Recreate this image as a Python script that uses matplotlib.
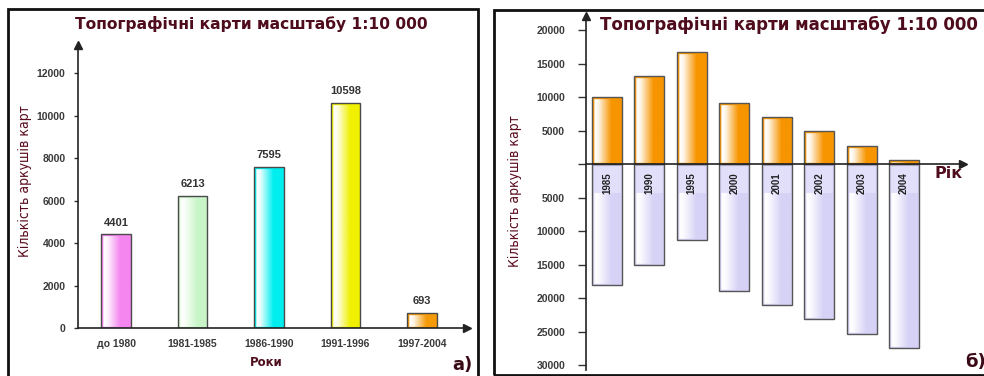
import numpy as np
import matplotlib.pyplot as plt
from matplotlib import font_manager
from matplotlib.colors import to_rgb
from matplotlib.patches import Rectangle

W, H = 984, 376
maroon = '#4e0c1c'
num_font = ['Liberation Sans', 'DejaVu Sans']

# narrow face for the vertical axis titles, whichever is installed
_faces = font_manager.fontManager.ttflist
if any(f.name == 'Liberation Sans Narrow' for f in _faces):
    narrow = dict(family='Liberation Sans Narrow', fontsize=11.5)
elif any(f.name == 'DejaVu Sans' and f.stretch == 'condensed' for f in _faces):
    narrow = dict(family='DejaVu Sans', fontstretch='condensed', fontsize=10)
else:
    narrow = dict(family='Liberation Sans', fontsize=10)

# а) sheets by period
periods = ['до 1980', '1981-1985', '1986-1990', '1991-1996', '1997-2004']
sheets = [4401, 6213, 7595, 10598, 693]
period_colors = ['#f585ef', '#c8f5c8', '#00eef0', '#f0f000', '#f59a08']

# б) sheets by year, above and below the axis
years = ['1985', '1990', '1995', '2000', '2001', '2002', '2003', '2004']
upper = [10000, 13100, 16700, 9100, 7000, 4900, 2700, 600]
lower = [18000, 15000, 11300, 18900, 21100, 23200, 25400, 27400]


def px_axes(fig, x0, y0, x1, y1):
    # box given in pixels from the top-left corner
    return fig.add_axes([x0 / W, 1 - y1 / H, (x1 - x0) / W, (y1 - y0) / H])


def gradient(color, n=80):
    c = np.array(to_rgb(color))
    t = np.linspace(0, 1, n)
    mix = np.interp(t, [0, 0.1, 0.22, 0.65, 1], [0.85, 0.0, 0.1, 1, 1])
    return (1 - mix[:, None] * (1 - c))[None, :, :]


def fill_bars(ax, bars, colors):
    for b, col in zip(bars, colors):
        x, y = b.get_x(), b.get_y()
        w, h = b.get_width(), b.get_height()
        im = ax.imshow(gradient(col), extent=(x, x + w, y, y + h),
                       aspect='auto', interpolation='bilinear', zorder=1)
        im.set_clip_path(b)
        # coloured rim just inside the grey outline
        rim = Rectangle((x, y), w, h, fill=False, ec=col, lw=2.4, zorder=1.8)
        ax.add_patch(rim)
        rim.set_clip_path(b)


def style_ticks(labels, size=7.5):
    for lab in labels:
        lab.set_fontsize(size)
        lab.set_fontweight('bold')
        lab.set_color('#3a3a3a')
        lab.set_family(num_font)


fig = plt.figure(figsize=(W / 100, H / 100), dpi=100)

# panel frames
fig.patches.append(Rectangle((8 / W, -0.1), 470 / W, 1.1 - 9 / H, transform=fig.transFigure,
                             fill=False, ec='#111', lw=2))
fig.patches.append(Rectangle((494 / W, 1 / H), 0.6, 1 - 11 / H, transform=fig.transFigure,
                             fill=False, ec='#111', lw=2))

# ---- а) ----
ax = px_axes(fig, 78, 45, 467, 328)
x = np.arange(len(periods))
bars = ax.bar(x, sheets, 0.39, color='none', edgecolor='#4a4a4a', lw=1, zorder=2)
fill_bars(ax, bars, period_colors)
for b, v in zip(bars, sheets):
    ax.annotate(str(v), (b.get_x() + b.get_width() / 2, v), xytext=(0, 5),
                textcoords='offset points', ha='center', va='bottom',
                fontsize=8, fontweight='bold', color='#333', family=num_font)
ax.set_xlim(-0.497, 4.588)
ax.set_ylim(0, 13318)
ax.set_yticks(range(0, 12001, 2000))
ax.set_xticks(x, periods)
for s in ['top', 'right']:
    ax.spines[s].set_visible(False)
for s in ['left', 'bottom']:
    ax.spines[s].set_color('#222')
    ax.spines[s].set_linewidth(1.2)
ax.spines['bottom'].set_zorder(3)
ax.tick_params(axis='y', length=3, width=1, color='#333', pad=6)
ax.tick_params(axis='x', length=0, pad=8)
style_ticks(ax.get_xticklabels() + ax.get_yticklabels())
ax.patch.set_visible(False)
ax.plot(1, 0, '>', color='#222', ms=6, transform=ax.transAxes, clip_on=False)
ax.plot(0, 1, '^', color='#222', ms=6, transform=ax.transAxes, clip_on=False)

fig.text(251 / W, 1 - 24 / H, 'Топографічні карти масштабу 1:10 000', ha='center', va='center',
         fontsize=11.2, fontweight='bold', color=maroon)
fig.text(25 / W, 1 - 181 / H, 'Кількість аркушів карт', rotation=90, ha='center', va='center',
         color='#5a0c1e', **narrow)
fig.text(266 / W, 1 - 362 / H, 'Роки', ha='center', va='center',
         fontsize=8.5, fontweight='bold', color=maroon)
fig.text(462 / W, 1 - 365 / H, 'а)', ha='center', va='center',
         fontsize=13, fontweight='bold', color='#3a0a16')

# ---- б) ----
bx = px_axes(fig, 586, 16, 963, 370)
xi = np.arange(len(years))
top = bx.bar(xi, upper, 0.707, color='none', edgecolor='#555', lw=1, zorder=2)
fill_bars(bx, top, ['#f79500'] * len(years))
bottom = bx.bar(xi, [-v for v in lower], 0.707, color='none', edgecolor='#555', lw=1, zorder=2)
fill_bars(bx, bottom, ['#d6d2f6'] * len(years))
for b in bottom:
    # solid lavender cap holding the year label
    cap = Rectangle((b.get_x(), -4300), b.get_width(), 4300, fc='#e2dffa', ec='none', zorder=1.5)
    bx.add_patch(cap)
for b, yr in zip(bottom, years):
    bx.annotate(yr, (b.get_x() + b.get_width() / 2, 0), xytext=(0, -14),
                textcoords='offset points', ha='center', va='center', rotation=90,
                fontsize=7, fontweight='bold', color='#222', family=num_font)
bx.set_xlim(-0.495, 8.39)
bx.set_ylim(-30746, 22090)
yt = list(range(-30000, 20001, 5000))
bx.set_yticks(yt, [str(abs(v)) if v else '' for v in yt])
bx.set_xticks([])
bx.spines['bottom'].set_position(('data', 0))
for s in ['top', 'right']:
    bx.spines[s].set_visible(False)
for s in ['left', 'bottom']:
    bx.spines[s].set_color('#222')
    bx.spines[s].set_linewidth(1.2)
bx.spines['bottom'].set_zorder(3)
bx.tick_params(axis='y', length=6, width=1, color='#333', pad=9)
style_ticks(bx.get_yticklabels())
bx.patch.set_visible(False)
bx.plot(1, 0, '>', color='#222', ms=6, transform=bx.get_yaxis_transform(), clip_on=False)
bx.plot(0, 1, '^', color='#222', ms=6, transform=bx.transAxes, clip_on=False)

fig.text(789 / W, 1 - 25 / H, 'Топографічні карти масштабу 1:10 000', ha='center', va='center',
         fontsize=12, fontweight='bold', color=maroon)
fig.text(515 / W, 1 - 191 / H, 'Кількість аркушів карт', rotation=90, ha='center', va='center',
         color='#5a0c1e', **narrow)
fig.text(949 / W, 1 - 174 / H, 'Рік', ha='center', va='center',
         fontsize=11.5, fontweight='bold', color=maroon)
fig.text(965 / W, 1 - 362 / H, 'б)', ha='left', va='center',
         fontsize=13, fontweight='bold', color='#3a0a16')

fig.savefig('out.png', dpi=100)
